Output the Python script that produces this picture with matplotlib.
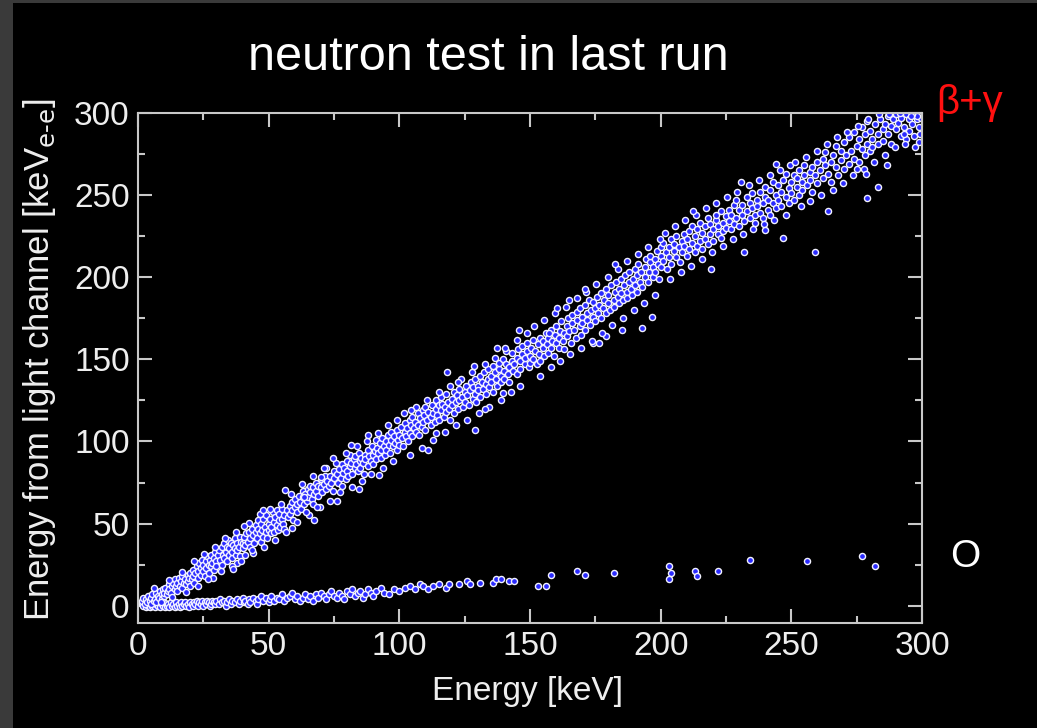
import numpy as np
import matplotlib
matplotlib.use('Agg')
import matplotlib.pyplot as plt
from matplotlib.patches import Rectangle

plt.rcParams['font.family'] = ['Liberation Sans', 'DejaVu Sans']

# upper band (beta + gamma events): (energy, light energy)
beta_gamma = [
    (1.5, 3), (2, 5), (2.5, 1), (3, 4), (3.5, 2), (4, 6), (4.5, 3), (5, 1), (5, 5), (5.5, 7),
    (6, 3), (6.5, 4), (7, 8), (7, 2), (7.5, 6), (8, 5), (8.5, 9), (9, 4), (9, 7), (9.5, 10),
    (10, 6), (10, 8), (10.5, 11), (11, 7), (11.5, 9), (12, 13), (12, 10), (12.5, 8), (13, 12),
    (13.5, 14), (14, 10), (14, 16), (14.5, 12), (15, 9), (15, 14), (15.5, 17), (16, 12),
    (16.5, 15), (17, 11), (17, 18), (17.5, 14), (18, 16), (18.5, 13), (19, 19), (19, 15),
    (19.5, 17), (20, 12), (20, 20), (20.5, 16), (21, 22), (21, 18), (21.5, 14), (22, 20),
    (22.5, 24), (23, 17), (23, 21), (23.5, 26), (24, 19), (24, 23), (24.5, 28), (25, 21),
    (25, 25), (25.5, 18), (26, 27), (26, 23), (26.5, 30), (27, 25), (27, 20), (27.5, 28),
    (28, 24), (28, 31), (28.5, 26), (29, 29), (29, 22), (29.5, 33), (30, 27), (30, 24),
    (30.5, 31), (28.7, 17), (31, 34), (31.5, 28), (32, 36), (32, 25), (32.5, 31), (33, 38),
    (33, 29), (33.5, 33), (34, 27), (34, 36), (34.5, 40), (35, 31), (35, 35), (35.5, 38),
    (36, 29), (36, 33), (36.5, 37), (37, 41), (37, 35), (37.5, 31), (38, 38), (38, 34),
    (38.5, 36), (39, 42), (39, 30), (39.5, 39), (40, 35), (40, 38), (38, 26), (41, 40),
    (41, 31), (40.5, 42), (41, 37), (41.5, 44), (42, 39), (42.5, 45), (43, 36), (43, 41),
    (43.5, 47), (44, 43), (44.5, 38), (45, 45), (45, 49), (45.5, 41), (46, 47), (46, 52),
    (46.5, 44), (47, 39), (47, 50), (47.5, 46), (48, 42), (48, 53), (48.5, 48), (49, 45),
    (49, 55), (49.5, 41), (50, 50), (50, 46), (50.5, 53), (51, 44), (51, 48), (51.5, 57),
    (52, 51), (52, 45), (52.5, 54), (53, 49), (53, 58), (53.5, 46), (54, 52), (54, 56),
    (54.5, 48), (55, 53), (55, 59), (55.5, 50), (56, 55), (56, 47), (57, 58), (57.5, 54),
    (58, 61), (58, 56), (59, 63), (59, 58), (59.5, 52), (60, 60), (60, 65), (61, 62),
    (61, 57), (61.5, 67), (62, 63), (62.5, 59), (63, 66), (63, 70), (63.5, 62), (64, 68),
    (64.5, 64), (65, 71), (65, 66), (65.5, 55), (66, 69), (66, 73), (66.5, 65), (67, 72),
    (67, 62), (67.5, 68), (68, 75), (68, 70), (69, 67), (69, 73), (69.5, 60), (70, 72),
    (70, 77), (70.5, 69), (71, 74), (71.5, 79), (72, 71), (72, 84), (72.5, 76), (73, 73),
    (73.5, 79), (74, 75), (74.5, 70), (75, 78), (75, 82), (76, 80), (76.5, 75), (77, 83),
    (77.5, 78), (78, 86), (78, 73), (78.5, 81), (79, 84), (79.5, 77), (80, 88), (80, 82),
    (80.5, 79), (81, 92), (81, 85), (81.5, 87), (82, 80), (82.5, 89), (83, 84), (83, 91),
    (83.5, 86), (84, 82), (84.5, 93), (85, 88), (85, 84), (85.5, 90), (86, 87), (86.5, 80),
    (87, 92), (87, 89), (88, 85), (88, 95), (88.5, 91), (89, 88), (89.5, 97), (90, 92),
    (90, 86), (90.5, 94), (91, 101), (91, 89), (91.5, 96), (92, 93), (92.5, 99), (93, 90),
    (93, 95), (93.5, 102), (94, 97), (94.5, 92), (95, 100), (95, 95), (95.5, 104), (96, 98),
    (96.5, 93), (97, 101), (97, 106), (97.5, 97), (98, 103), (98.5, 99), (99, 95), (99, 107),
    (99.5, 101), (100, 104), (100, 98), (100.5, 109), (101, 102), (101.5, 97), (102, 106),
    (102, 111), (102.5, 103), (103, 108), (103.5, 100), (104, 113), (104, 105), (104.5, 110),
    (105, 115), (105, 103), (105.5, 108), (106, 112), (106.5, 106), (107, 117), (107, 110),
    (107.5, 104), (108, 114), (108.5, 109), (109, 119), (109, 112), (109.5, 116), (110, 107),
    (110, 121), (110.5, 113), (111, 95), (111, 118), (112, 115), (112, 110), (112.5, 122),
    (113, 117), (113.5, 112), (114, 120), (114, 125), (114.5, 116), (115, 122), (115, 113),
    (116, 119), (116, 127), (116.5, 123), (117, 115), (117.5, 121), (118, 129), (118, 118),
    (118.5, 124), (119, 120), (119.5, 113), (120, 126), (120, 122), (121, 130), (121, 117),
    (121.5, 124), (122, 128), (122.5, 120), (123, 125), (123, 132), (124, 127), (124.5, 121),
    (125, 130), (125, 124), (129, 107), (125.5, 134), (126, 128), (126.5, 122), (127, 131),
    (127.5, 136), (128, 126), (128, 133), (129, 129), (129, 138), (129.5, 124), (130, 134),
    (130, 131), (131, 140), (131, 127), (131.5, 136), (132, 132), (132.5, 142), (133, 135),
    (133, 129), (134, 138), (134, 144), (134.5, 133), (135, 140), (135, 136), (136, 146),
    (136, 130), (136.5, 142), (137, 138), (137.5, 134), (138, 144), (138, 148), (139, 140),
    (139, 136), (139.5, 150), (140, 143), (140, 138), (141, 147), (141, 155), (141.5, 141),
    (142, 145), (142, 136), (143, 149), (143, 154), (143.5, 143), (144, 147), (145, 151),
    (145, 141), (145.5, 156), (146, 149), (146, 144), (147, 153), (147, 158), (148, 147),
    (148, 151), (149, 155), (149, 160), (149.5, 145), (150, 152), (150, 148), (150.5, 157),
    (151, 150), (151, 162), (152, 155), (152.5, 147), (153, 159), (153.5, 153), (154, 163),
    (154, 149), (155, 157), (155, 161), (155.5, 152), (156, 166), (156.5, 159), (157, 154),
    (157, 163), (158, 168), (158, 157), (158.5, 161), (159, 152), (159.5, 165), (160, 160),
    (160, 170), (161, 163), (161, 157), (161.5, 167), (162, 173), (162.5, 161), (163, 166),
    (163, 156), (164, 170), (164, 164), (164.5, 175), (165, 167), (165.5, 160), (166, 172),
    (166, 177), (167, 168), (167.5, 163), (168, 174), (168, 179), (169, 170), (169, 181),
    (169.5, 165), (170, 176), (170, 172), (171, 183), (171, 168), (172, 178), (172, 174),
    (172.5, 186), (173, 171), (173.5, 180), (174, 176), (174, 185), (175, 173), (175, 181),
    (174, 160), (179, 164), (175.5, 188), (176, 178), (176.5, 183), (177, 175), (177, 190),
    (178, 181), (178.5, 186), (179, 178), (179, 193), (180, 184), (180, 189), (180.5, 180),
    (181, 195), (182, 186), (182, 182), (182.5, 191), (183, 197), (183.5, 188), (184, 184),
    (184, 193), (185, 190), (185, 199), (185.5, 186), (186, 195), (186.5, 201), (187, 191),
    (187, 187), (188, 197), (188, 203), (188.5, 193), (189, 189), (189.5, 199), (190, 205),
    (190, 195), (191, 191), (191, 201), (191.5, 208), (192, 197), (192.5, 203), (193, 169),
    (193, 194), (194, 206), (194, 200), (194.5, 211), (195, 197), (195.5, 203), (196, 209),
    (196, 213), (197, 200), (197, 206), (198, 211), (198, 203), (198.5, 216), (199, 208),
    (199.5, 199), (200, 213), (200, 218), (200, 206), (201, 210), (201, 221), (202, 215),
    (202.5, 205), (203, 218), (203, 212), (204, 223), (204, 208), (205, 216), (205, 220),
    (206, 212), (206, 225), (207, 218), (207.5, 209), (208, 222), (208, 215), (209, 226),
    (209, 219), (210, 213), (210, 223), (211, 228), (211, 217), (212, 221), (212, 231),
    (213, 215), (213, 225), (214, 219), (214, 229), (215, 233), (215, 222), (216, 217),
    (216, 227), (217, 231), (217, 223), (218, 236), (218, 220), (219, 226), (219, 232),
    (220, 229), (220, 222), (221, 235), (221, 238), (222, 226), (222, 231), (223, 224),
    (223, 240), (224, 233), (224, 228), (225, 237), (225, 230), (226, 234), (226, 241),
    (227, 229), (227, 238), (228, 244), (228, 232), (229, 236), (229, 247), (230, 231),
    (230, 241), (231, 238), (231, 244), (232, 215), (232, 234), (233, 249), (233, 240),
    (234, 236), (234, 245), (235, 242), (235, 251), (236, 238), (236, 233), (237, 247),
    (237, 243), (238, 252), (238, 239), (239, 245), (239, 236), (240, 249), (240, 255),
    (241, 241), (241, 247), (242, 253), (242, 238), (243, 245), (243, 258), (244, 250),
    (244, 242), (245, 247), (245, 256), (246, 252), (246, 243), (247, 259), (247, 224),
    (248, 249), (248, 263), (249, 254), (249, 245), (250, 258), (250, 251), (251, 247),
    (251, 262), (252, 255), (252, 260), (253, 250), (253, 265), (254, 258), (254, 253),
    (255, 262), (255, 268), (256, 256), (257, 264), (257, 259), (258, 267), (258, 252),
    (259, 215), (259, 262), (260, 270), (260, 257), (261, 265), (262, 260), (262, 272),
    (263, 268), (263, 276), (264, 263), (265, 270), (265, 258), (266, 274), (267, 267),
    (267, 280), (268, 262), (269, 271), (269, 277), (270, 266), (270, 282), (271, 274),
    (272, 269), (272, 285), (273, 277), (274, 272), (274, 288), (275, 280), (275, 266),
    (276, 270), (276, 284), (277, 278), (277, 291), (278, 274), (278, 287), (279, 281),
    (279, 295), (279, 248), (280, 277), (280, 289), (281, 284), (281, 279), (282, 293),
    (283, 287), (283, 255), (283, 281), (284, 296), (285, 290), (285, 283), (286, 293),
    (287, 298), (287, 287), (288, 292), (288, 281), (289, 296), (290, 290), (290, 299),
    (291, 294), (292, 286), (292, 297), (293, 291), (294, 299), (294, 284), (295, 296),
    (295, 289), (296, 293), (297, 299), (297, 286), (298, 296), (299, 291), (299, 282),
    (299.5, 297), (298, 298), (296, 299), (293, 287),
]

# looser points along the edges of the upper band
beta_gamma_edges = [
    (6.3, 11), (8.7, 2.5), (11.8, 15.5), (13.2, 5.5), (16.7, 20.5), (18.3, 8.5), (21.6, 27),
    (22.8, 12), (25.4, 31.5), (26.9, 16), (29.3, 36), (31.7, 21), (33.2, 41.5), (35.8, 24),
    (37.4, 45), (39.6, 27.5), (42.3, 50.5), (44.1, 32), (46.6, 56), (48.2, 36), (50.7, 59),
    (52.3, 40), (54.6, 62), (56.8, 45), (40.7, 48.5), (36.2, 22.5), (47.9, 58), (43.8, 34),
    (58.4, 68), (60.7, 51), (62.9, 74), (64.4, 57), (66.8, 79), (68.6, 60), (71.3, 84),
    (73.4, 64), (75.8, 87), (77.3, 69), (79.6, 93), (81.8, 72), (83.7, 97), (85.9, 76),
    (87.6, 100), (89.3, 80), (91.7, 105), (93.9, 84), (95.6, 110), (97.4, 88), (99.2, 113),
    (59.1, 47.5), (67.3, 52), (76.2, 64), (84.6, 71), (92.4, 79.5), (56.3, 70.5), (81.5, 98),
    (74.8, 90), (88.1, 104), (63.4, 66), (70.1, 78.5),
    (101.7, 117), (103.9, 92), (106.4, 121), (108.8, 96), (110.6, 125), (112.7, 101),
    (115.3, 130), (117.6, 106), (119.2, 134), (121.8, 110), (123.5, 138), (125.9, 113),
    (127.8, 142), (130.3, 117), (132.6, 147), (134.2, 121), (136.7, 151), (138.9, 125),
    (140.6, 157), (142.8, 130), (144.9, 162), (146.3, 134), (148.7, 166), (118.3, 142),
    (128.6, 146), (137.4, 157), (145.7, 168), (104.5, 119), (132.9, 120), (139.5, 129.5),
    (114.2, 105), (122.3, 136),
    (151.6, 170), (153.8, 140), (155.4, 174), (157.9, 145), (159.6, 178), (161.4, 149),
    (163.7, 182), (165.2, 153), (167.8, 187), (169.4, 157), (171.6, 191), (173.8, 161),
    (175.3, 196), (177.5, 166), (179.7, 200), (181.2, 171), (183.6, 205), (185.7, 175),
    (187.3, 210), (189.8, 180), (191.4, 214), (193.6, 184), (195.3, 218), (197.8, 189),
    (199.6, 223), (160.4, 181), (170.9, 193), (182.7, 208), (157.3, 166), (176.5, 160),
    (185.3, 168), (196.7, 176), (164.8, 186),
    (201.8, 227), (203.6, 199), (205.3, 231), (207.8, 203), (209.4, 235), (211.7, 207),
    (213.5, 238), (215.9, 211), (217.2, 242), (219.6, 215), (221.3, 245), (223.8, 219),
    (225.4, 249), (227.7, 223), (229.3, 252), (231.6, 226), (233.8, 256), (235.2, 229),
    (237.6, 259), (239.4, 232), (241.8, 262), (243.3, 235), (245.7, 265), (247.9, 238),
    (249.4, 268), (212.4, 240), (230.7, 258), (244.2, 268.5), (219.1, 205), (239.8, 228.5),
    (251.4, 270), (253.8, 243), (255.6, 273), (257.3, 246), (259.7, 277), (261.2, 250),
    (263.5, 281), (265.8, 253), (267.4, 285), (269.6, 257), (271.3, 288), (273.7, 262),
    (275.4, 292), (277.8, 266), (279.3, 296), (281.6, 270), (283.4, 299), (285.7, 274),
    (287.2, 299.5), (289.5, 279), (291.4, 300), (293.6, 281), (295.8, 298), (297.3, 279),
    (299.1, 287), (286.5, 268), (263.9, 240), (278.6, 263),
]

# lower band (nuclear recoils)
recoils = [
    (1.5, 1), (2, 0), (2.5, 2), (3, -1), (3, 1), (3.5, 3), (4, 0), (4, 2), (4.5, -1), (5, 1),
    (5.5, 0), (5.5, 3), (6, 2), (6.5, -1), (7, 1), (7.5, 0), (8, 2), (8.5, -1), (9, 1),
    (9.5, 0), (10, 2), (10.5, -1), (11, 0), (11.5, 1), (12, -1), (12.5, 2), (13, 0),
    (13.5, 1), (14, -1), (14.5, 2), (15, 0), (15.5, 1), (16, -1), (16.5, 2), (17, 0),
    (17.5, 1), (18, 2), (18.5, 0), (19, 1), (19.5, -1), (20, 2), (20.5, 1), (21, 0),
    (21.5, 2), (22, 1), (22.5, 3), (23, 0), (23.5, 2), (24, 1), (24.5, 3), (25, 0),
    (25.5, 2), (26, 1), (26.5, 3), (27, 2), (27.5, 0), (28, 1), (28.5, 3), (29, 2),
    (29.5, 1), (30, 3), (31, 1), (31.5, 4), (32, 2), (33, 3), (33.5, 0), (34, 2), (35, 4),
    (35.5, 1), (36, 3), (37, 2), (38, 4), (38.5, 1), (39, 3), (40, 5), (40.5, 2), (41, 3),
    (42, 1), (42.5, 4), (43, 2), (44, 5), (45, 3), (45.5, 1), (46, 4), (47, 6), (48, 3),
    (49, 5), (50, 2), (50.5, 4), (51, 6), (52, 3), (53, 5), (54, 4), (55, 7), (56, 3),
    (57, 5), (58, 6), (59, 8), (60, 4), (61, 6), (62, 3), (63, 5), (64, 7), (65, 4), (66, 6),
    (67, 3), (68, 7), (69, 5), (70, 8), (71, 6), (72, 4), (73, 7), (74, 9), (75, 6), (76, 5),
    (77, 8), (78, 6), (79, 4), (80, 9), (81, 7), (82, 10), (83, 6), (84, 8), (85, 9), (86, 5),
    (87, 7), (88, 10), (89, 8), (90, 6), (91, 9), (93, 11), (94, 8), (96, 7), (98, 10),
    (100, 9), (102, 11), (104, 12), (106, 10), (108, 13), (109, 12), (111, 10), (113, 12),
    (115, 13), (118, 11), (119, 13), (123, 13), (126, 15), (127, 13), (131, 14), (136, 14),
    (137, 16), (139, 16), (142, 15), (144, 15), (153, 12), (156, 12), (158, 19), (168, 21),
    (171, 19), (182, 20), (203, 24), (204, 20), (203, 16), (213, 21), (214, 18), (222, 21),
    (234, 28), (256, 27), (277, 30), (282, 24),
]

x_ticks = [0, 50, 100, 150, 200, 250, 300]
y_ticks = [0, 50, 100, 150, 200, 250, 300]

W, H = 1037, 728
fig = plt.figure(figsize=(W / 100, H / 100), dpi=100, facecolor='black')

# grey slide frame on the left / top
fig.patches.append(Rectangle((0, 0), 13 / W, 1, transform=fig.transFigure,
                             facecolor='#3a3a3a', edgecolor='none', zorder=0))
fig.patches.append(Rectangle((0, 1 - 3 / H), 1, 3 / H, transform=fig.transFigure,
                             facecolor='#3a3a3a', edgecolor='none', zorder=0))

ax = fig.add_axes([138 / W, 1 - 622.7 / H, (922 - 138) / W, (622.7 - 112.7) / H])
ax.set_facecolor('black')

bg = np.array(beta_gamma + beta_gamma_edges)
nr = np.array(recoils)
style = dict(linestyle='none', marker='o', markersize=4.4, markerfacecolor='#2a2aff',
             markeredgecolor='#f2f2ff', markeredgewidth=1.0)
ax.plot(nr[:, 0], nr[:, 1], **style)
ax.plot(bg[:, 0], bg[:, 1], **style)

ax.set_xlim(0, 300)
ax.set_ylim(-10.3, 300)
ax.set_xticks(x_ticks)
ax.set_yticks(y_ticks)
ax.set_xticks(np.arange(25, 300, 50), minor=True)
ax.set_yticks(np.arange(25, 300, 50), minor=True)

for s in ax.spines.values():
    s.set_color('#c8c8c8')
    s.set_linewidth(1.5)
ax.tick_params(which='both', direction='in', top=True, right=True,
               color='#c8c8c8', width=1.5)
ax.tick_params(which='major', length=10, labelsize=24, labelcolor='#eeeeee', pad=6)
ax.tick_params(which='minor', length=5)

fig.text(488 / W, 1 - 70 / H, 'neutron test in last run', color='white',
         fontsize=35, ha='center', va='baseline')
fig.text(527 / W, 1 - 700 / H, 'Energy [keV]', color='#eeeeee',
         fontsize=24, ha='center', va='baseline')
fig.text(40 / W, 1 - 360 / H, r'Energy from light channel [keV$_{\text{e-e}}$]',
         color='#eeeeee', fontsize=25, rotation=90, ha='center', va='center')
fig.text(970 / W, 1 - 103 / H, r'β+γ', color='#ff1010', fontsize=29,
         ha='center', va='center')
fig.text(965 / W, 1 - 557 / H, 'O', color='white', fontsize=28,
         ha='center', va='center')

fig.savefig('out.png', dpi=100, facecolor='black')
